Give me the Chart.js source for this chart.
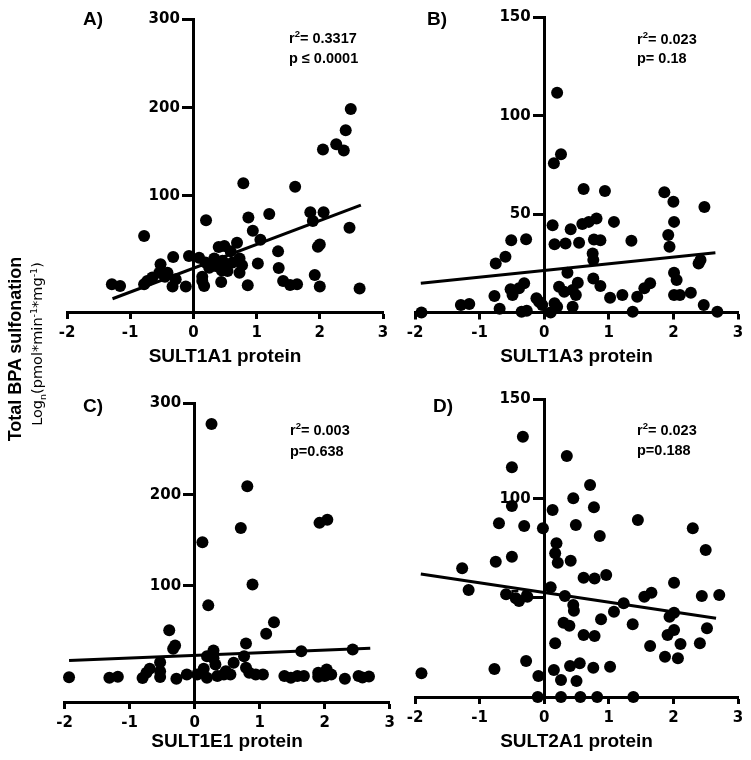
<!DOCTYPE html>
<html><head><meta charset="utf-8">
<script src="https://cdn.jsdelivr.net/npm/chart.js@4.4.0/dist/chart.umd.min.js"></script>
<style>
body{margin:0;background:#fff;}
#wrap{position:relative;width:751px;height:760px;overflow:hidden;background:#fff;}
canvas{position:absolute;}
.t{position:absolute;font-family:"Liberation Sans",Arial,sans-serif;font-weight:bold;color:#000;white-space:nowrap;line-height:1;}
.letter{font-size:19px;}
.ann{font-size:14.5px;}
.sup{font-size:9.5px;position:relative;top:-6px;}
.rot{position:absolute;white-space:nowrap;line-height:1;color:#000;transform:translate(-50%,-50%) rotate(-90deg);}
</style></head><body>
<div id="wrap">
<canvas id="cA" width="400" height="380" style="left:0;top:0"></canvas>
<canvas id="cB" width="376" height="380" style="left:375px;top:0"></canvas>
<canvas id="cC" width="400" height="380" style="left:0;top:380px"></canvas>
<canvas id="cD" width="376" height="380" style="left:375px;top:380px"></canvas>

<div class="t letter" style="left:83px;top:9px">A)</div>
<div class="t letter" style="left:427px;top:9px">B)</div>
<div class="t letter" style="left:83px;top:396px">C)</div>
<div class="t letter" style="left:433px;top:396px">D)</div>

<div class="t ann" style="left:289px;top:31px">r<span class="sup">2</span>= 0.3317</div>
<div class="t ann" style="left:289px;top:51px">p ≤ 0.0001</div>
<div class="t ann" style="left:637px;top:32px">r<span class="sup">2</span>= 0.023</div>
<div class="t ann" style="left:637px;top:51px">p= 0.18</div>
<div class="t ann" style="left:290px;top:423px">r<span class="sup">2</span>= 0.003</div>
<div class="t ann" style="left:290px;top:444px">p=0.638</div>
<div class="t ann" style="left:637px;top:423px">r<span class="sup">2</span>= 0.023</div>
<div class="t ann" style="left:637px;top:443px">p=0.188</div>

<div class="rot" style="left:15px;top:349px;font-family:'Liberation Sans',Arial,sans-serif;font-weight:bold;font-size:18px;">Total BPA sulfonation</div>
<div class="rot" style="left:37px;top:344px;font-family:'DejaVu Sans',sans-serif;font-size:14.5px;">Log<span style="font-size:9.5px;position:relative;top:4px">n</span>(pmol*min<span style="font-size:9.5px;position:relative;top:-5px">-1</span>*mg<span style="font-size:9.5px;position:relative;top:-5px">-1</span>)</div>
</div>
<script>
// ---- data ----
const xTicks = [-2, -1, 0, 1, 2, 3];
const yTicksA = [100, 200, 300];
const yTicksB = [50, 100, 150];
const yTicksC = [100, 200, 300];
const yTicksD = [50, 100, 150];
const xTitles = ["SULT1A1 protein", "SULT1A3 protein", "SULT1E1 protein", "SULT2A1 protein"];

const sult1a1X = [2.49,2.41,2.26,2.38,2.05,0.79,1.61,0.20,0.87,1.20,1.85,2.06,1.89,2.47,-0.78,0.94,1.06,0.69,0.40,0.49,2.00,1.97,1.34,0.59,-0.32,-0.07,0.09,0.33,0.73,0.19,-0.52,1.02,0.77,0.51,0.35,0.62,0.46,1.35,-0.41,-0.54,0.73,1.92,0.14,0.54,-0.65,-0.73,-0.78,-0.28,-0.33,-0.12,0.17,0.14,0.44,0.86,1.42,1.53,1.64,2.00,-1.29,-1.16,2.63,-0.45,0.45,0.25];
const sult1a1Y = [198,174,158,151,152,114,110,72,75,79,81,81,71,63.5,54,60,50,46.5,41.6,42.7,44.6,42,36.7,36.7,30.3,31.4,29.6,28.5,28.5,24,22,23,21,22,20,24,26,17.9,12.6,12.6,12.6,10,8,14.5,7,3,-0.5,5,-3,-3,-2.5,3,2,-1.7,3,-1.4,-0.5,-3,-0.5,-2.5,-5.4,8,15,18];

const sult1a3X = [-1.90,-1.29,-1.16,-0.77,-0.75,-0.69,-0.60,-0.51,-0.52,-0.49,-0.39,-0.35,-0.31,-0.28,-0.27,-0.12,-0.08,-0.03,0.10,0.13,0.15,0.16,0.16,0.20,0.20,0.23,0.26,0.31,0.33,0.36,0.41,0.44,0.44,0.49,0.52,0.54,0.59,0.61,0.69,0.75,0.76,0.76,0.77,0.81,0.87,0.87,0.94,1.02,1.08,1.21,1.35,1.37,1.44,1.55,1.64,1.86,1.92,1.94,2.00,2.01,2.01,2.01,2.05,2.10,2.27,2.39,2.42,2.47,2.48,2.68];
const sult1a3Y = [0,3.8,4.3,8.4,24.9,1.9,28.3,36.7,11.8,8.9,12.3,0.4,14.8,37.2,0.9,7.2,5.5,3.8,0,44.3,75.8,34.7,4.7,111.6,2.9,13.1,80.3,10.5,35,20.2,42.3,11.4,2.9,8.9,15.1,35.4,44.9,62.7,46,30,26.6,17.3,37.1,47.7,36.7,13.4,61.7,7.5,46,8.9,36.4,0.4,8.0,12.3,14.8,61,39.3,33.4,56.2,46,20.2,8.9,16.5,8.9,10,24.9,26.6,3.8,53.6,0.4];

const sult1e1X = [0.26,0.81,0.71,0.12,1.92,2.04,0.89,0.21,1.22,-0.39,1.10,-0.30,-0.33,0.79,0.29,1.64,2.43,0.76,0.19,0.29,-0.53,0.60,0.32,-0.69,0.79,0.14,0.48,-0.74,-0.53,-1.93,-1.31,-1.18,-0.80,-0.53,-0.28,-0.12,0.04,0.19,0.35,0.45,0.55,0.84,0.94,1.05,1.38,1.48,1.58,1.68,1.90,2.03,2.00,2.10,1.90,2.31,2.52,2.68,2.58];
const sult1e1Y = [277,208.7,163,147.3,168.5,172,100.9,78,59.5,50.8,46.8,34,30.4,36.2,28.5,27.8,29.6,22.3,22.3,20,15.7,15,13.2,8.4,9.5,8.4,5.8,4,5.8,-0.8,-1.5,-0.3,-1.8,-0.5,-2.6,2.2,2.2,-1.5,0.4,2.2,2.2,4,2.2,2.2,0.4,-1.5,0.4,0.4,4,7.7,0.4,2.2,-0.3,-2.6,0.4,0,-1];

const sult2a1X = [-0.33,-0.50,0.35,0.71,0.45,0.77,-0.50,0.13,1.45,2.30,-0.70,-0.31,-0.02,0.49,0.86,0.19,0.17,2.50,-0.50,-0.75,0.21,0.41,-1.27,0.61,0.78,0.96,2.01,-1.17,0.10,-0.59,-0.39,-0.26,-0.44,0.32,1.55,1.66,2.44,2.71,0.45,0.46,1.23,1.08,2.01,1.94,0.88,0.30,0.39,1.37,2.52,2.01,0.61,0.78,1.91,0.17,2.11,2.41,1.64,1.87,2.07,-0.28,0.55,0.40,0.76,1.02,0.15,-0.77,-1.90,-0.09,0.26,0.50,-0.10,0.26,0.56,0.82,1.38];
const sult2a1Y = [131,115.6,121.3,106.7,100,95.5,96.1,94.1,89.1,84.9,87.4,86.1,84.9,86.6,81,77.4,72.3,74,70.6,68.1,67.6,68.6,64.8,60,59.7,61.4,57.5,53.9,55.2,51.7,48.3,50.5,49.7,50.8,50.5,52.5,50.8,51.3,46.3,43.4,47.2,42.9,42.4,40.4,39.1,37.4,35.9,36.6,34.6,33.7,31.2,30.7,31.2,27,26.7,27,25.7,20.3,19.5,18.1,17,15.6,14.7,15.2,13.6,14.1,11.9,10.6,8.6,8.1,0,0,0,0,0];

// regression line end points
const fitAX = [-1.28, 2.65], fitAY = [-17, 89];
const fitBX = [-1.91, 2.65], fitBY = [14.8, 30.3];
const fitCX = [-1.93, 2.70], fitCY = [17.5, 31];
const fitDX = [-1.91, 2.66], fitDY = [61.9, 39.6];

// ---- drawing ----
const tickFont = {family: "'DejaVu Sans', sans-serif", weight: 'bold', size: 15};

// y tick labels placed left of the y axis that crosses at x = 0
const yLabelPlugin = {
  id: 'yLabels',
  beforeDatasetsDraw(chart) {
    const ys = chart.scales.y, xs = chart.scales.x;
    const ctx = chart.ctx;
    const x0 = xs.getPixelForValue(0);
    ctx.save();
    ctx.font = "bold 15px 'DejaVu Sans', sans-serif";
    ctx.fillStyle = '#000';
    ctx.textAlign = 'right';
    ctx.textBaseline = 'middle';
    ys.ticks.forEach(t => ctx.fillText(String(t.value), x0 - 13.5, ys.getPixelForValue(t.value) + 0.5));
    ctx.restore();
  }
};

function makeChart(id, xs, ys, fx, fy, yMin, yMax, yTicks, title, pad, axisH, titlePadB) {
  const pts = xs.map((x, i) => ({x: x, y: ys[i]}));
  const fit = fx.map((x, i) => ({x: x, y: fy[i]}));
  return new Chart(document.getElementById(id), {
    type: 'scatter',
    data: {datasets: [
      {data: pts, backgroundColor: '#000', borderColor: '#000', pointRadius: 6, pointHoverRadius: 6, borderWidth: 0, clip: false},
      {type: 'line', data: fit, borderColor: '#000', borderWidth: 3, pointRadius: 0, fill: false, clip: false, tension: 0}
    ]},
    plugins: [yLabelPlugin],
    options: {
      responsive: false, animation: false, events: [],
      layout: {padding: pad},
      plugins: {legend: {display: false}, tooltip: {enabled: false}},
      scales: {
        x: {
          type: 'linear', min: -2, max: 3, position: 'bottom',
          afterBuildTicks: s => { s.ticks = xTicks.map(v => ({value: v})); },
          afterFit: s => { s.height = axisH; },
          grid: {drawOnChartArea: false, drawTicks: true, tickLength: 7, tickWidth: 3, tickColor: '#000'},
          border: {display: true, color: '#000', width: 3},
          ticks: {color: '#000', font: tickFont, padding: 5, maxRotation: 0, autoSkip: false},
          title: {display: true, text: title, color: '#000',
                  font: {family: "'Liberation Sans', Arial, sans-serif", weight: 'bold', size: 19},
                  padding: {top: 0, bottom: titlePadB}}
        },
        y: {
          type: 'linear', min: yMin, max: yMax, position: {x: 0},
          afterBuildTicks: s => { s.ticks = yTicks.map(v => ({value: v})); },
          grid: {drawOnChartArea: false, drawTicks: true, tickLength: 10, tickWidth: 3, tickColor: '#000'},
          border: {display: true, color: '#000', width: 3},
          ticks: {display: false}
        }
      }
    }
  });
}
makeChart('cA', sult1a1X, sult1a1Y, fitAX, fitAY, -32, 300, yTicksA, xTitles[0], {left: 67, right: 17, top: 19, bottom: 0}, 68, 11.5);
makeChart('cB', sult1a3X, sult1a3Y, fitBX, fitBY, 0, 150, yTicksB, xTitles[1], {left: 40, right: 13, top: 17, bottom: 0}, 67.5, 11.5);
makeChart('cC', sult1e1X, sult1e1Y, fitCX, fitCY, -28, 300, yTicksC, xTitles[2], {left: 64.5, right: 10, top: 23, bottom: 0}, 58, 7);
makeChart('cD', sult2a1X, sult2a1Y, fitDX, fitDY, 0, 150, yTicksD, xTitles[3], {left: 40, right: 13, top: 19, bottom: 0}, 63, 7);
</script>
</body></html>
